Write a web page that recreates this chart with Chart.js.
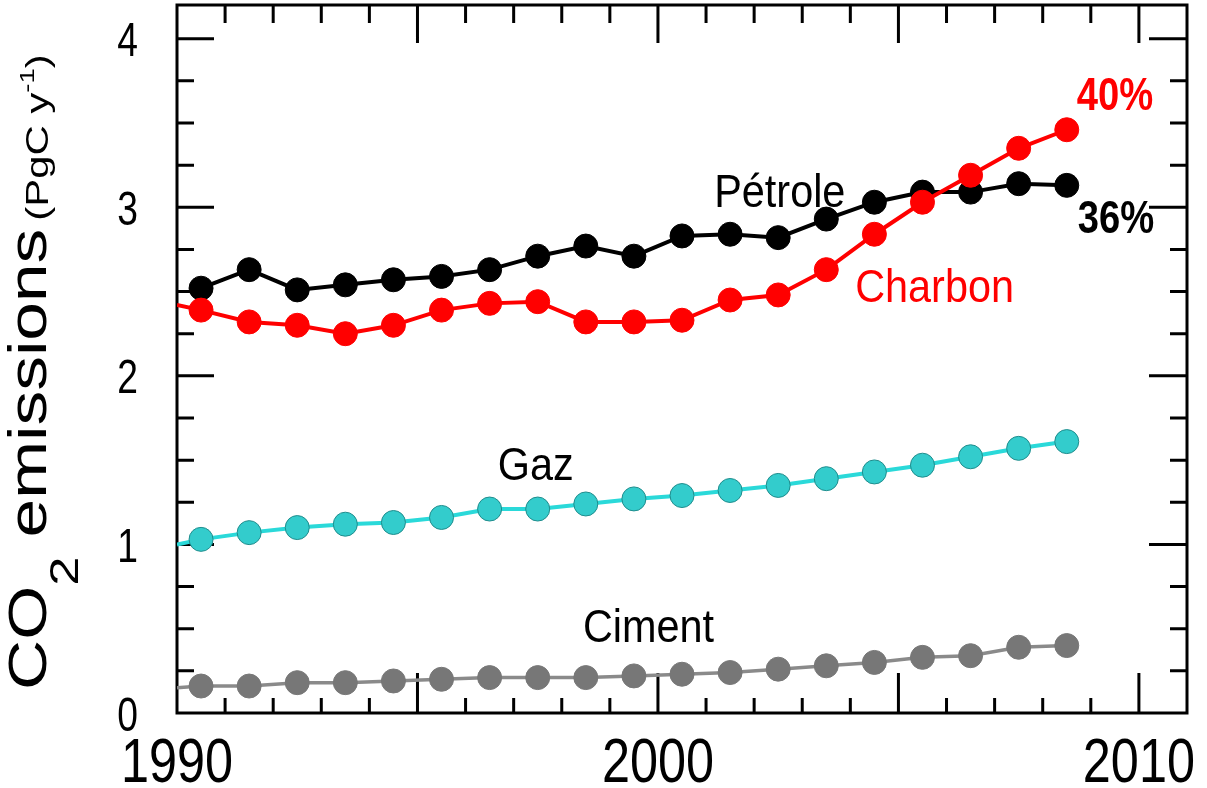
<!DOCTYPE html>
<html>
<head>
<meta charset="utf-8">
<title>CO2 emissions par combustible</title>
<script src="https://cdn.jsdelivr.net/npm/chart.js@4.4.0/dist/chart.umd.min.js"></script>
<style>
  html, body { margin: 0; padding: 0; background: #fff; }
  canvas { display: block; }
</style>
</head>
<body>
<canvas id="chart" width="1207" height="788"></canvas>
<script>
// ---- données (PgC / an) ----
// 1990 = départ du trait (sans marqueur), puis milieux d'année
const years   = [1990, 1990.5, 1991.5, 1992.5, 1993.5, 1994.5, 1995.5, 1996.5, 1997.5, 1998.5, 1999.5,
                 2000.5, 2001.5, 2002.5, 2003.5, 2004.5, 2005.5, 2006.5, 2007.5, 2008.5];
const petrole = [null, 2.52, 2.63, 2.51, 2.54, 2.57, 2.59, 2.63, 2.71, 2.77, 2.71,
                 2.83, 2.84, 2.82, 2.93, 3.03, 3.09, 3.09, 3.14, 3.13];
const charbon = [2.42, 2.39, 2.32, 2.30, 2.25, 2.30, 2.39, 2.43, 2.44, 2.32, 2.32,
                 2.33, 2.45, 2.48, 2.63, 2.84, 3.03, 3.19, 3.35, 3.46];
const gaz     = [1.00, 1.03, 1.07, 1.10, 1.12, 1.13, 1.16, 1.21, 1.21, 1.24, 1.27,
                 1.29, 1.32, 1.35, 1.39, 1.43, 1.47, 1.52, 1.57, 1.61];
const ciment  = [0.15, 0.16, 0.16, 0.18, 0.18, 0.19, 0.20, 0.21, 0.21, 0.21, 0.22,
                 0.23, 0.24, 0.26, 0.28, 0.30, 0.33, 0.34, 0.39, 0.40];

const xTicks = [1990, 2000, 2010];
const yTicks = [0, 1, 2, 3, 4];

// étiquettes posées dans le repère des données
const notes = [
  { text: 'Pétrole', x: 2001.17, y: 3.00, color: '#000' },
  { text: 'Charbon', x: 2004.10, y: 2.44, color: '#ff0000' },
  { text: 'Gaz',     x: 1996.67, y: 1.38, color: '#000' },
  { text: 'Ciment',  x: 1998.44, y: 0.42, color: '#000' },
  { text: '40%',     x: 2008.71, y: 3.58, color: '#ff0000', bold: true },
  { text: '36%',     x: 2008.73, y: 2.85, color: '#000', bold: true },
];

const FAM = '"Liberation Sans", Arial, sans-serif';
const pts = vals => years.map((x, i) => ({ x, y: vals[i] }));
const radius = c => (c.raw && c.raw.x === 1990 ? 0 : 12);

// texte resserré horizontalement (police étroite du modèle)
function squeezed(ctx, text, x, y, font, sx, align) {
  ctx.save();
  ctx.font = font;
  ctx.textAlign = align || 'left';
  ctx.textBaseline = 'alphabetic';
  ctx.translate(x, y);
  ctx.scale(sx, 1);
  ctx.fillText(text, 0, 0);
  ctx.restore();
}

// cadre + graduations intérieures (4 côtés)
const frameTicks = {
  id: 'frameTicks',
  beforeDatasetsDraw(chart) {
    const { ctx, chartArea: a, scales: { x, y } } = chart;
    ctx.save();
    ctx.strokeStyle = '#000';
    ctx.lineWidth = 3;
    ctx.beginPath();
    for (let yr = 1991; yr < 2011; yr++) {
      const px = x.getPixelForValue(yr);
      const major = yr % 5 === 0;
      ctx.moveTo(px, a.bottom); ctx.lineTo(px, a.bottom - (major ? 40 : 15));
      ctx.moveTo(px, a.top);    ctx.lineTo(px, a.top + (major ? 38 : 18));
    }
    for (let k = 1; k <= 16; k++) {
      const py = y.getPixelForValue(k / 4);
      const major = k % 4 === 0;
      ctx.moveTo(a.left, py);  ctx.lineTo(a.left + (major ? 37 : 17), py);
      ctx.moveTo(a.right, py); ctx.lineTo(a.right - (major ? 38 : 17), py);
    }
    ctx.stroke();
    ctx.strokeRect(a.left, a.top, a.right - a.left, a.bottom - a.top);
    ctx.restore();
  }
};

// libellés des graduations, titre de l'axe y, étiquettes des courbes
const texts = {
  id: 'texts',
  afterDraw(chart) {
    const { ctx, chartArea: a, scales: { x, y } } = chart;
    ctx.save();
    ctx.fillStyle = '#000';
    x.ticks.forEach(t => squeezed(ctx, String(t.value), x.getPixelForValue(t.value), 782, '63px ' + FAM, 0.8, 'center'));
    y.ticks.forEach(t => squeezed(ctx, String(t.value), a.left - 39, y.getPixelForValue(t.value) + 17.5, '49px ' + FAM, 0.76, 'right'));

    notes.forEach(n => {
      ctx.fillStyle = n.color;
      const font = n.bold ? 'bold 46px ' + FAM : '46px ' + FAM;
      squeezed(ctx, n.text, x.getPixelForValue(n.x), y.getPixelForValue(n.y), font, n.bold ? 0.83 : 0.9);
    });

    // titre vertical, étiré dans le sens du texte
    ctx.fillStyle = '#000';
    ctx.translate(46, 690);
    ctx.rotate(-Math.PI / 2);
    ctx.scale(1.31, 1);
    ctx.textAlign = 'left';
    ctx.textBaseline = 'alphabetic';
    let cx = 0;
    const put = (t, size, dy) => {
      ctx.font = size + 'px ' + FAM;
      ctx.fillText(t, cx, dy);
      cx += ctx.measureText(t).width;
    };
    put('CO', 53, 0);
    put('2', 40, 32);
    put(' emissions', 53, 0);
    put(' ', 22, 0);
    put('(PgC y', 32, 2);
    put('-1', 21, -12);
    put(')', 32, 2);
    ctx.restore();
  }
};

new Chart(document.getElementById('chart'), {
  type: 'line',
  data: {
    datasets: [
      { label: 'Charbon', data: pts(charbon), order: 0,
        borderColor: '#ff0000', backgroundColor: '#ff0000', pointBorderColor: '#ff0000',
        borderWidth: 4, pointRadius: radius, pointBorderWidth: 1 },
      { label: 'Pétrole', data: pts(petrole), order: 1,
        borderColor: '#000000', backgroundColor: '#000000', pointBorderColor: '#000000',
        borderWidth: 4, pointRadius: radius, pointBorderWidth: 1 },
      { label: 'Gaz', data: pts(gaz), order: 2,
        borderColor: '#2ad9d9', backgroundColor: '#33cccc', pointBorderColor: '#1f8c8c',
        borderWidth: 4, pointRadius: radius, pointBorderWidth: 1 },
      { label: 'Ciment', data: pts(ciment), order: 3,
        borderColor: '#8a8a8a', backgroundColor: '#777777', pointBorderColor: '#777777',
        borderWidth: 3.5, pointRadius: radius, pointBorderWidth: 1 },
    ]
  },
  options: {
    responsive: false,
    animation: false,
    devicePixelRatio: 1,
    spanGaps: false,
    layout: { autoPadding: false, padding: { top: 5, right: 20, left: 0, bottom: 0 } },
    plugins: { legend: { display: false }, tooltip: { enabled: false } },
    scales: {
      x: {
        type: 'linear', min: 1990, max: 2011,
        grid: { display: false, drawTicks: false }, border: { display: false },
        afterBuildTicks: s => { s.ticks = xTicks.map(v => ({ value: v })); },
        afterFit: s => { s.height = 75; s.paddingLeft = 0; s.paddingRight = 0; },
        ticks: { display: false }
      },
      y: {
        type: 'linear', min: 0, max: 4.2,
        grid: { display: false, drawTicks: false }, border: { display: false },
        afterBuildTicks: s => { s.ticks = yTicks.map(v => ({ value: v })); },
        afterFit: s => { s.width = 177; s.paddingTop = 0; s.paddingBottom = 0; },
        ticks: { display: false }
      }
    }
  },
  plugins: [frameTicks, texts]
});
</script>
</body>
</html>
